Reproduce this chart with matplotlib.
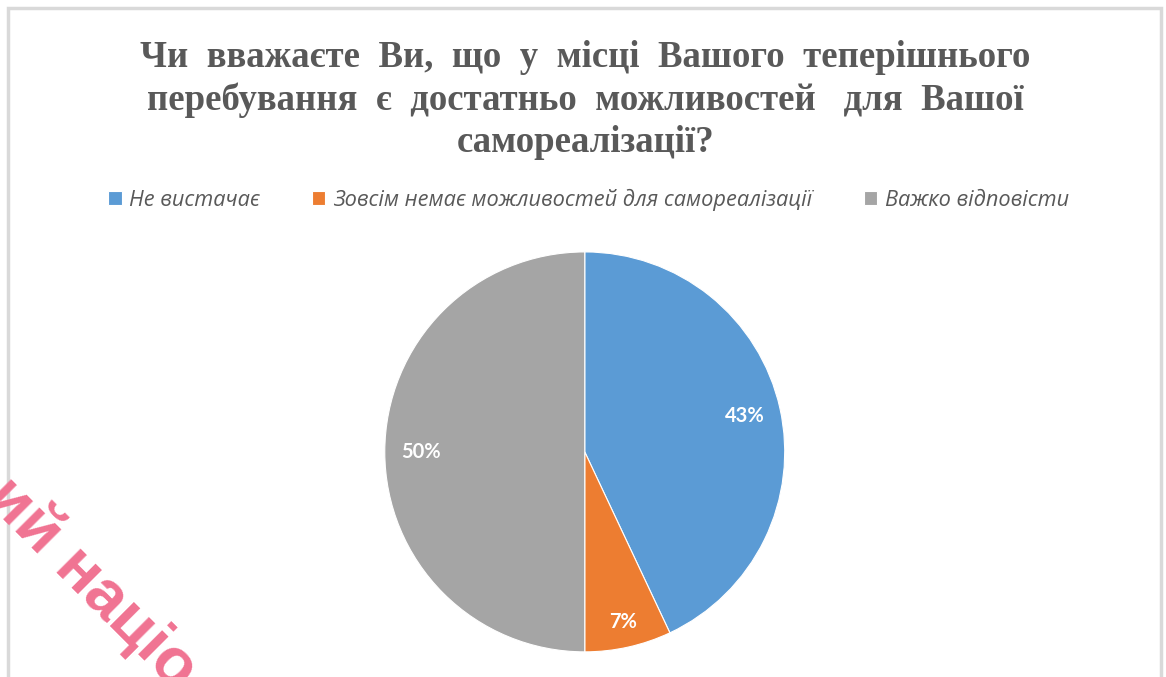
import numpy as np
import matplotlib.pyplot as plt
from matplotlib.patches import Rectangle

# data
labels = ["Не вистачає", "Зовсім немає можливостей для самореалізації", "Важко відповісти"]
values = [43, 7, 50]
colors = ["#5b9bd5", "#ed7d31", "#a5a5a5"]
title = ("Чи  вважаєте  Ви,  що  у  місці  Вашого  теперішнього\n"
         "перебування  є  достатньо  можливостей   для  Вашої\n"
         "самореалізації?")
watermark = "ий націо"


def main():
    fig = plt.figure(figsize=(11.66, 6.77), dpi=100)
    fig.patch.set_facecolor("white")

    # light frame round the chart area
    fig.patches.append(Rectangle((8 / 1166, -0.05), 1153 / 1166, 1.05 - 8 / 677,
                                 transform=fig.transFigure, fill=False,
                                 edgecolor="#d9d9d9", linewidth=2.5))

    fig.text(0.502, 1 - 100 / 677, title, ha="center", va="center",
             family="Liberation Serif", fontweight="bold", fontsize=26.5,
             color="#595959", linespacing=1.28)

    ax = fig.add_axes([0.330, 0.037, 0.343, 0.591])
    wedges, texts, autotexts = ax.pie(values, colors=colors, startangle=90,
                                      counterclock=False, autopct="%1.0f%%",
                                      pctdistance=0.82,
                                      wedgeprops=dict(edgecolor="white", linewidth=0.8),
                                      textprops=dict(color="white", fontsize=14.5,
                                                     fontweight="bold", family="Lato"))
    # the small slice label sits a bit further out
    w = wedges[1]
    mid = np.deg2rad((w.theta1 + w.theta2) / 2)
    autotexts[1].set_position((0.87 * np.cos(mid), 0.87 * np.sin(mid)))
    ax.set_xlim(-1, 1)
    ax.set_ylim(-1, 1)
    ax.set_aspect("equal")

    fig.legend(wedges, labels, loc="center", bbox_to_anchor=(0.505, 1 - 200 / 677),
               ncol=3, frameon=False, handlelength=0.6, handleheight=0.6,
               handletextpad=0.35, columnspacing=2.4,
               prop=dict(family="Open Sans", style="italic", size=15.7),
               labelcolor="#595959")

    fig.text(92 / 1166, 1 - 583 / 677, watermark, rotation=-45,
             rotation_mode="anchor", ha="center", va="center",
             fontsize=47, fontweight="bold", family="Liberation Sans",
             color="#f07392")

    fig.savefig("out.png", dpi=100)


if __name__ == "__main__":
    main()
